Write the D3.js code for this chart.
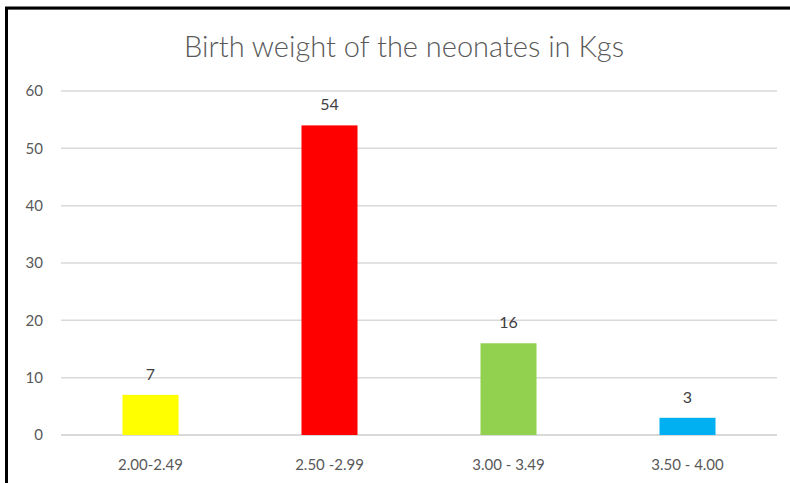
<!DOCTYPE html>
<html>
<head>
<meta charset="utf-8">
<script src="https://cdn.jsdelivr.net/npm/d3@7"></script>
<style>
  body { margin: 0; background: #fff; }
  text { font-family: Lato, "Open Sans", sans-serif; }
</style>
</head>
<body>
<script>
const width = 790,
  height = 483;

const categories = ["2.00-2.49", "2.50 -2.99", "3.00 - 3.49", "3.50 - 4.00"];
const values = [7, 54, 16, 3];
const barColors = ["#ffff00", "#ff0000", "#92d050", "#00b0f0"];
const yTicks = [0, 10, 20, 30, 40, 50, 60];
const title = "Birth weight of the neonates  in Kgs";

const margin = {top: 91, right: 13, bottom: 48, left: 61};

const x = d3.scaleBand()
  .domain(categories)
  .range([margin.left, width - margin.right])
  .paddingInner(0.687)
  .paddingOuter(0.3435);

const y = d3.scaleLinear()
  .domain([0, 60])
  .range([height - margin.bottom, margin.top]);

const svg = d3.select("body").append("svg")
  .attr("width", width)
  .attr("height", height);

svg.append("rect")
  .attr("width", width)
  .attr("height", height)
  .attr("fill", "#fff");

// frame (top + left only visible)
svg.append("line")
  .attr("x1", 5).attr("x2", width).attr("y1", 9.5).attr("y2", 9.5)
  .attr("stroke", "#bbb").attr("stroke-width", 1);
svg.append("line")
  .attr("x1", 5).attr("x2", width).attr("y1", 8).attr("y2", 8)
  .attr("stroke", "#000").attr("stroke-width", 3);
svg.append("line")
  .attr("x1", 6.5).attr("x2", 6.5).attr("y1", 7).attr("y2", height)
  .attr("stroke", "#000").attr("stroke-width", 3);

svg.append("text")
  .attr("x", 404)
  .attr("y", 57)
  .attr("text-anchor", "middle")
  .attr("fill", "#595959")
  .attr("font-size", "29px")
  .attr("font-weight", 300)
  .text(title);

// gridlines
svg.append("g")
  .selectAll("line")
  .data(yTicks)
  .join("line")
  .attr("x1", margin.left)
  .attr("x2", width - margin.right)
  .attr("y1", d => y(d))
  .attr("y2", d => y(d))
  .attr("stroke", "#d9d9d9")
  .attr("stroke-width", d => d === 0 ? 2 : 1.5);

const yAxis = svg.append("g")
  .attr("transform", "translate(" + (margin.left - 18) + ",0)")
  .call(d3.axisLeft(y).tickValues(yTicks).tickSize(0).tickPadding(0));
yAxis.select(".domain").remove();
yAxis.selectAll("text")
  .attr("fill", "#595959")
  .attr("font-size", "15px")
  .attr("font-family", "Lato, sans-serif");

svg.selectAll(".bar")
  .data(values)
  .join("rect")
  .attr("class", "bar")
  .attr("x", (d, i) => x(categories[i]))
  .attr("width", x.bandwidth())
  .attr("y", d => y(d))
  .attr("height", d => y(0) - y(d))
  .attr("fill", (d, i) => barColors[i]);

svg.selectAll(".lbl")
  .data(values)
  .join("text")
  .attr("class", "lbl")
  .attr("x", (d, i) => x(categories[i]) + x.bandwidth() / 2)
  .attr("y", d => y(d) - 15)
  .attr("text-anchor", "middle")
  .attr("fill", "#404040")
  .attr("font-size", "16px")
  .text(d => d);

const xAxis = svg.append("g")
  .attr("transform", "translate(0," + y(0) + ")")
  .call(d3.axisBottom(x).tickSize(0).tickPadding(24));
xAxis.select(".domain").remove();
xAxis.selectAll("text")
  .attr("fill", "#595959")
  .attr("font-size", "15px")
  .attr("font-family", "Lato, sans-serif");
</script>
</body>
</html>
